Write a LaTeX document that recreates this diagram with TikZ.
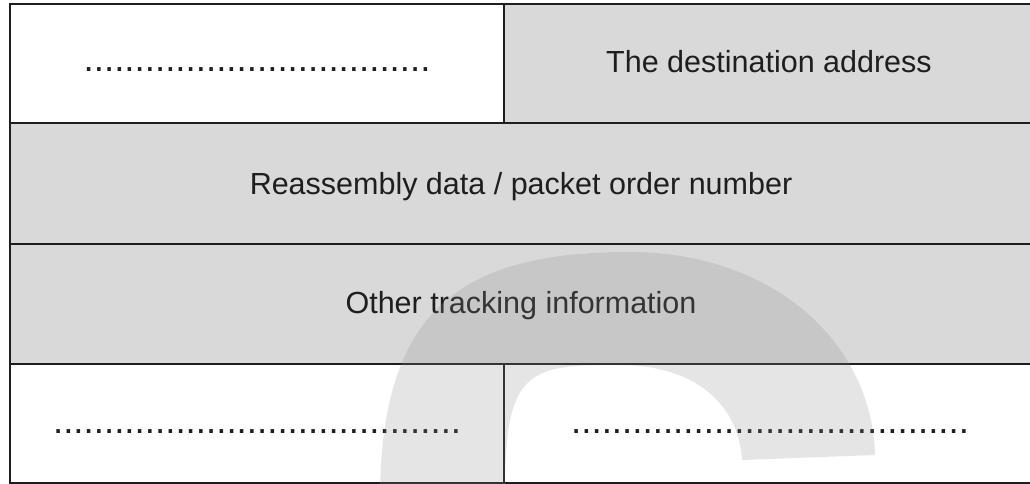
\documentclass[tikz,border=0pt]{standalone}
\usepackage{fontspec}
\setmainfont{Liberation Sans}
\definecolor{cellgray}{RGB}{217,217,217}
\definecolor{linecol}{RGB}{30,30,30}
\definecolor{wmark}{RGB}{136,136,136}
\tikzset{
  cellfill/.style={fill=cellgray},
  gridline/.style={draw=linecol,line width=2pt},
  celltext/.style={font=\fontsize{30.5}{36}\selectfont, text=linecol, inner sep=0pt, anchor=base},
  dotrow/.style={font=\fontsize{36.7}{40}\selectfont, text=linecol, inner sep=0pt, anchor=base},
  watermark/.style={fill=wmark, fill opacity=0.21}
}
\begin{document}
\begin{tikzpicture}[x=1pt,y=-1pt]
\useasboundingbox (0,0) rectangle (1030,484);
\fill[white] (0,0) rectangle (1030,484);
\clip (0,0) rectangle (1030,484);
% cell fills
\fill[cellfill] (504,4) rectangle (1040,123);
\fill[cellfill] (10,123) rectangle (1040,364);
% grid lines
\draw[gridline] (10,4) rectangle (1040,483);
\draw[gridline] (10,123) -- (1040,123);
\draw[gridline] (10,244) -- (1040,244);
\draw[gridline] (10,364) -- (1040,364);
\draw[gridline] (504,4) -- (504,123);
\draw[gridline] (504,364) -- (504,483);
% texts
\node[dotrow] (d1) at (257,71.5) {..................................};
\node[celltext] (t1) at (769,73) {The destination address};
\node[celltext] (t2) at (521,194) {Reassembly data / packet order number};
\node[celltext] (t3) at (521,313) {Other tracking information};
\node[dotrow] (d2) at (257,433.5) {........................................};
\node[dotrow] (d3) at (770,433.5) {.......................................};
% watermark
\fill[watermark] (380,500) .. controls (380,310) and (460,252) .. (630,252)
  .. controls (770,252) and (872,340) .. (875,455)
  -- (742,460)
  .. controls (738,400) and (690,365) .. (620,365)
  .. controls (525,364) and (504,372) .. (505,500) -- cycle;
\end{tikzpicture}
\end{document}
